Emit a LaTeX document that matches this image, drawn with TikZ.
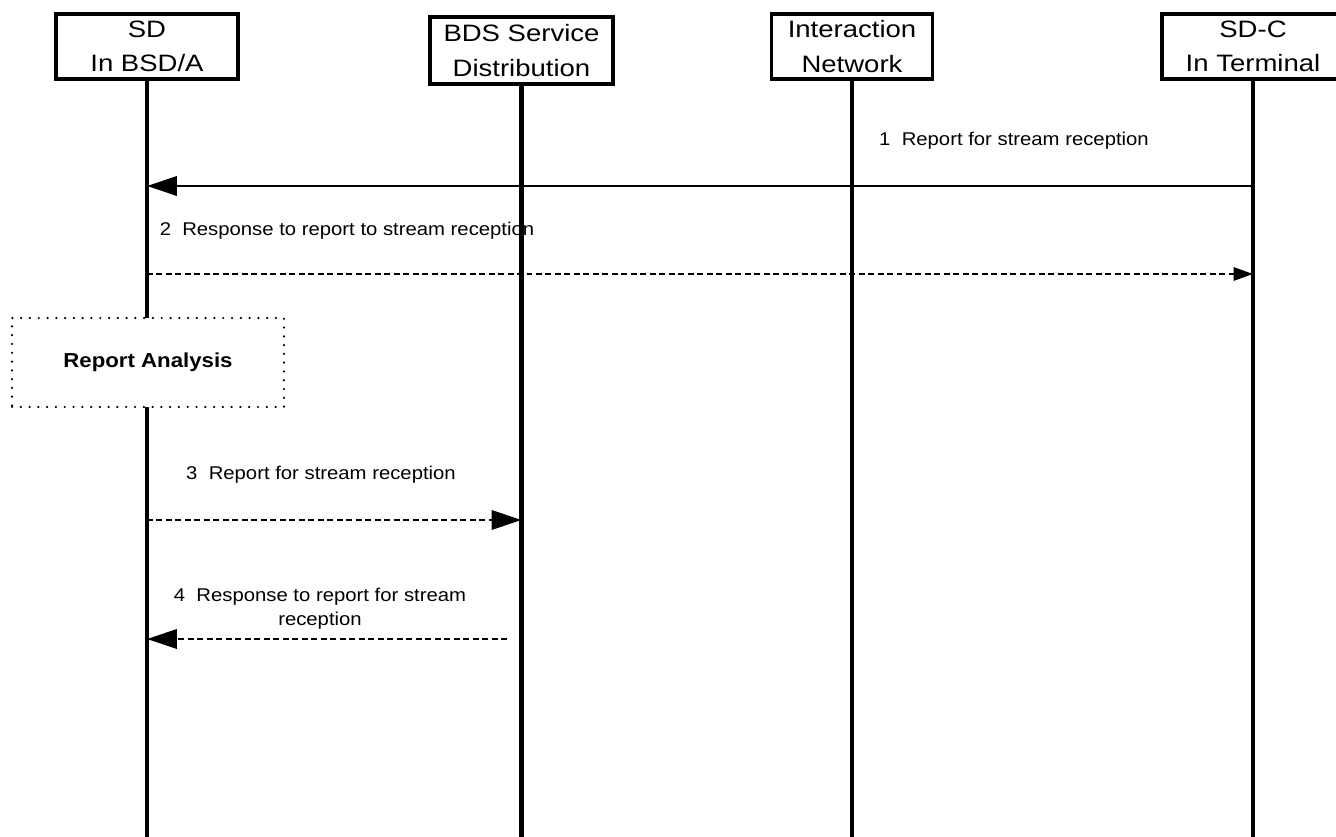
\documentclass[tikz,border=0pt]{standalone}
\usepackage{fontspec}
\setmainfont{Liberation Sans}
\newfontfamily\headfont{Liberation Sans}[FakeStretch=1.16]
\newfontfamily\msgfont{Liberation Sans}[FakeStretch=1.1]
\usetikzlibrary{arrows.meta}

\tikzset{
	entity/.style={draw,line width=2.2pt,fill=white,align=center,inner sep=0pt,
		font=\headfont\fontsize{13.5}{19.5}\selectfont},
	lifeline/.style={line width=2.5pt},
	msg/.style={line width=1.3pt},
	reply/.style={line width=1.3pt,dash pattern=on 3.4pt off 2pt},
	msglabel/.style={align=center,inner sep=0pt,font=\msgfont\fontsize{10.5}{13.6}\selectfont}
}

\begin{document}
\begin{tikzpicture}[x=0.02cm,y=-0.02cm]
		\useasboundingbox (0,0) rectangle (1336,837);

		\begin{scope}[every node/.style={entity}]
			\node[minimum width=3.64cm,minimum height=1.3cm] (SD) at (147,46.5) {SD\\In BSD/A};
			\node[minimum width=3.66cm,minimum height=1.34cm] (BDS) at (521.5,50.5) {BDS Service\\Distribution};
			\node[minimum width=3.22cm,minimum height=1.3cm] (IN) at (852,46.5) {Interaction\\Network};
			\node[minimum width=3.64cm,minimum height=1.3cm] (SDC) at (1253,46.5) {SD-C\\In Terminal};
		\end{scope}

		\coordinate (SDend) at (147,837);
		\coordinate (BDSend) at (521.5,837);
		\coordinate (INend) at (852,837);
		\coordinate (SDCend) at (1253,837);

		\node[msglabel] (L1) at (1014,141) {1~~Report for stream reception};
		\node[msglabel] (L2) at (347,231) {2~~Response to report to stream reception};
		\node[msglabel] (L3) at (321,475) {3~~Report for stream reception};
		\node[msglabel] (L4) at (320,609) {4~~Response to report for stream\\reception};

		\draw[lifeline] (SD) -- (SDend);
		\draw[lifeline] (BDS) -- (BDSend);
		\draw[lifeline] (IN) -- (INend);
		\draw[lifeline] (SDC) -- (SDCend);

		\node[draw,fill=white,line width=1.4pt,line cap=round,dash pattern=on 0pt off 5pt,
			minimum width=5.44cm,minimum height=1.78cm,
			font=\msgfont\bfseries\fontsize{11.5}{14}\selectfont] (RA) at (148,362.5) {Report Analysis};

		\coordinate (m1a) at (1253,186);
		\coordinate (m1b) at (147,186);
		\coordinate (m2a) at (147,274);
		\coordinate (m2b) at (1253,274);
		\coordinate (m3a) at (147,520);
		\coordinate (m3b) at (521.5,520);
		\coordinate (m4a) at (507,639);
		\coordinate (m4b) at (147,639);

		\begin{scope}[>={Triangle[length=17pt,width=11pt]}]
			\draw[msg,->] (m1a) -- (m1b);
			\draw[reply,-{Triangle[length=11pt,width=7.5pt]}] (m2a) -- (m2b);
			\draw[reply,->] (m3a) -- (m3b);
			\draw[reply,->] (m4a) -- (m4b);
		\end{scope}
	\end{tikzpicture}
\end{document}
